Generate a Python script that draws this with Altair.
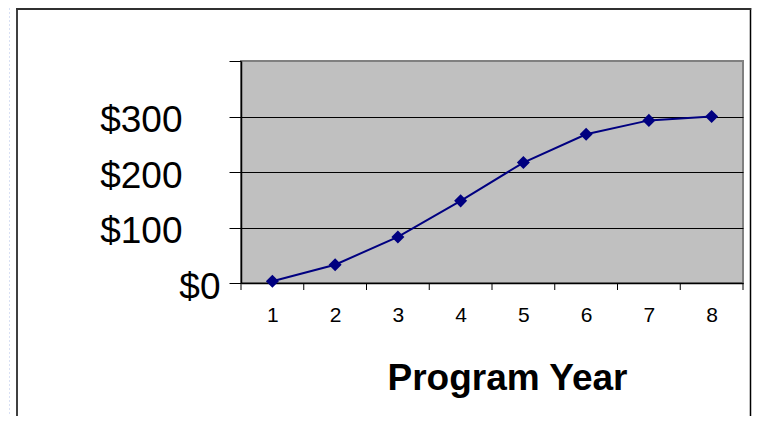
import altair as alt
import pandas as pd

years = [1, 2, 3, 4, 5, 6, 7, 8]
values = [3, 33, 83, 148, 217, 268, 293, 300]
y_ticks = [0, 100, 200, 300, 400]
x_bounds = [0.5, 1.5, 2.5, 3.5, 4.5, 5.5, 6.5, 7.5, 8.5]

df = pd.DataFrame({"year": years, "value": values})
bounds_df = pd.DataFrame({"b": x_bounds})

FONT = "Liberation Sans"
NAVY = "#000080"

x_enc = alt.X(
    "year:Q",
    scale=alt.Scale(domain=[0.5, 8.5], nice=False, zero=False),
    axis=alt.Axis(
        values=years,
        format="d",
        ticks=False,
        labelOverlap=False,
        labelFlush=False,
        domainColor="black",
        domainWidth=1.5,
        labelFont=FONT,
        labelFontSize=21,
        labelColor="black",
        labelPadding=21,
        labelBaseline="top",
        grid=False,
        title="Program Year",
        titleFont=FONT,
        titleFontSize=37,
        titleFontWeight="bold",
        titleColor="black",
        titleX=266,
        titleY=106,
        titleAlign="center",
        titleBaseline="alphabetic",
    ),
)

y_enc = alt.Y(
    "value:Q",
    scale=alt.Scale(domain=[0, 400], nice=False),
    axis=alt.Axis(
        values=y_ticks,
        labelExpr="datum.value == 400 ? '' : '$' + datum.value",
        labelOverlap=False,
        labelFlush=False,
        labelFont=FONT,
        labelFontSize=37,
        labelColor="black",
        labelAlign="right",
        labelBaseline="middle",
        labelOffset=4,
        labelPadding={"condition": {"test": "datum.value == 0", "value": 9}, "value": 47},
        tickSize=12,
        tickColor="black",
        tickWidth=1,
        domainColor="black",
        domainWidth=1.5,
        grid=True,
        gridColor="black",
        gridWidth=1,
        gridOpacity={"condition": {"test": "datum.value == 400 || datum.value == 0", "value": 0}, "value": 1},
        title=None,
    ),
)

line = alt.Chart(df).mark_line(color=NAVY, strokeWidth=2).encode(x=x_enc, y=y_enc)
pts = alt.Chart(df).mark_point(shape="diamond", filled=True, color=NAVY, opacity=1, size=170).encode(
    x="year:Q", y="value:Q"
)
xticks = alt.Chart(bounds_df).mark_rule(color="black", strokeWidth=1).encode(
    x="b:Q", y=alt.value(222), y2=alt.value(229)
)

frame_df = pd.DataFrame({"a": [0]})
frame_left = alt.Chart(frame_df).mark_rule(color="black", strokeWidth=1.5).encode(
    x=alt.value(-224), y=alt.value(-53), y2=alt.value(380)
)
frame_right = alt.Chart(frame_df).mark_rule(color="black", strokeWidth=1.5).encode(
    x=alt.value(509.5), y=alt.value(-53), y2=alt.value(380)
)
frame_top = alt.Chart(frame_df).mark_rule(color="#303030", strokeWidth=2).encode(
    x=alt.value(-224.7), x2=alt.value(510.2), y=alt.value(-52)
)
bgline = alt.Chart(frame_df).mark_rule(color="#d8e0f4", strokeWidth=1, strokeDash=[2, 2]).encode(
    x=alt.value(-231.5), y=alt.value(-53), y2=alt.value(380)
)

chart = (
    alt.layer(bgline, frame_left, frame_right, frame_top, xticks, line, pts)
    .properties(
        width=502,
        height=222,
        autosize=alt.AutoSizeParams(type="none"),
        padding={"left": 233, "top": 53, "right": 9, "bottom": 133},
        background="white",
    )
    .configure_view(fill="#C0C0C0", stroke="#808080", strokeWidth=2)
)

chart.save("out.html", embed_options={"renderer": "svg", "actions": False})
